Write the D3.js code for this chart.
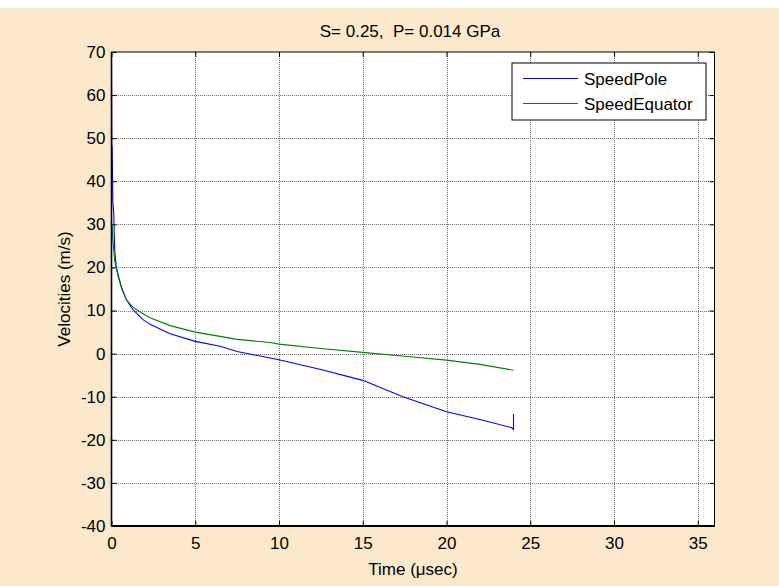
<!DOCTYPE html>
<html><head><meta charset="utf-8">
<script src="https://cdn.jsdelivr.net/npm/d3@7"></script>
<style>body{margin:0;background:#fff}svg{display:block}text{font-family:"Liberation Sans",Arial,sans-serif;fill:#000;white-space:pre}</style>
</head><body>
<script>
const title = "S= 0.25,  P= 0.014 GPa";
const xLabel = "Time (\u03bcsec)";
const yLabel = "Velocities (m/s)";
const xTicks = [0,5,10,15,20,25,30,35];
const yTicks = [-40,-30,-20,-10,0,10,20,30,40,50,60,70];
const seriesNames = ["SpeedPole","SpeedEquator"];
const poleT = [0,0.02,0.04,0.08,0.13,0.19,0.29,0.43,0.59,0.89,1.28,1.88,2.3,3.5,5,6.48,7.5,9.46,10,12.5,15,17.4,20,22,23.9,24,24];
const poleV = [67,48,48,35,33,24,20,17.8,15.5,12.5,10.2,7.9,6.8,4.6,2.85,1.7,0.5,-1.0,-1.4,-3.7,-6.2,-10,-13.5,-15.3,-17.2,-17.6,-14];
const eqT = [0,0.03,0.09,0.19,0.39,0.63,0.89,1.28,1.78,2.37,3.5,5,6.48,7.5,9.46,10,12.5,15,17.5,20,22,24];
const eqV = [30,30,26,21.5,18,14.8,12.5,10.8,9.5,8.2,6.5,5.0,4.0,3.3,2.6,2.2,1.2,0.3,-0.6,-1.5,-2.5,-3.85];

const W=779,H=586;
const m={l:111.5,r:714.5,t:52,b:526};
const FS=17;
const fmt=d=>String(d);
const svg=d3.select("body").append("svg").attr("width",W).attr("height",H);
svg.append("rect").attr("x",0).attr("y",8).attr("width",W).attr("height",H-8).attr("fill","#FCE9CB");
svg.append("rect").attr("x",m.l).attr("y",m.t).attr("width",m.r-m.l).attr("height",m.b-m.t).attr("fill","#fff");

const x=d3.scaleLinear().domain([0,36]).range([m.l,m.r]);
const y=d3.scaleLinear().domain([-40,70]).range([m.b,m.t]);

// grid
const g=svg.append("g").attr("shape-rendering","crispEdges");
g.selectAll(".gx").data(xTicks.filter(v=>v>0)).enter().append("line")
 .attr("x1",d=>Math.round(x(d))+0.5).attr("x2",d=>Math.round(x(d))+0.5).attr("y1",m.t).attr("y2",m.b)
 .attr("stroke","#707070").attr("stroke-dasharray","1,1").attr("stroke-width",1);
g.selectAll(".gy").data(yTicks.filter(v=>v>-40&&v<70)).enter().append("line")
 .attr("y1",d=>Math.round(y(d))+0.5).attr("y2",d=>Math.round(y(d))+0.5).attr("x1",m.l).attr("x2",m.r)
 .attr("stroke","#707070").attr("stroke-dasharray","1,1").attr("stroke-width",1);

// axes via d3
const tl=5;
svg.append("g").attr("transform",`translate(0,${m.b})`)
 .call(d3.axisBottom(x).tickValues(xTicks).tickSize(-tl).tickPadding(10).tickFormat(fmt))
 .call(a=>{a.select(".domain").remove();a.selectAll("text").attr("font-size",FS).attr("dy","0.75em");});
svg.append("g").attr("transform",`translate(0,${m.t})`)
 .call(d3.axisTop(x).tickValues(xTicks).tickSize(-tl).tickFormat(""))
 .call(a=>a.select(".domain").remove());
svg.append("g").attr("transform",`translate(${m.l},0)`)
 .call(d3.axisLeft(y).tickValues(yTicks).tickSize(-tl).tickPadding(10).tickFormat(fmt))
 .call(a=>{a.select(".domain").remove();a.selectAll("text").attr("font-size",FS).attr("dx","4");});
svg.append("g").attr("transform",`translate(${m.r},0)`)
 .call(d3.axisRight(y).tickValues(yTicks).tickSize(-tl).tickFormat(""))
 .call(a=>a.select(".domain").remove());
svg.selectAll(".tick line").attr("stroke","#000");

// lines
const line=d3.line().x(d=>x(d[0])).y(d=>y(d[1]));
svg.append("clipPath").attr("id","c").append("rect").attr("x",m.l).attr("y",m.t).attr("width",m.r-m.l).attr("height",m.b-m.t);
svg.append("path").datum(poleT.map((t,i)=>[t,poleV[i]])).attr("d",line).attr("fill","none").attr("stroke","#0000ff").attr("stroke-width",1.1).attr("clip-path","url(#c)");
svg.append("path").datum(eqT.map((t,i)=>[t,eqV[i]])).attr("d",line).attr("fill","none").attr("stroke","#008000").attr("stroke-width",1.1).attr("clip-path","url(#c)");

// box
svg.append("rect").attr("x",m.l).attr("y",m.t).attr("width",m.r-m.l).attr("height",m.b-m.t).attr("fill","none").attr("stroke","#000").attr("stroke-width",1);
svg.append("line").attr("x1",m.l).attr("x2",m.r).attr("y1",m.b).attr("y2",m.b).attr("stroke","#000").attr("stroke-width",2);
svg.append("line").attr("x1",m.l).attr("x2",m.l).attr("y1",m.t).attr("y2",m.b).attr("stroke","#000").attr("stroke-width",1.6);

// legend
const lg=svg.append("g");
lg.append("rect").attr("x",512).attr("y",63).attr("width",194).attr("height",57).attr("fill","#fff").attr("stroke","#000").attr("stroke-width",1);
const lc=["#0000ff","#008000"];
seriesNames.forEach((n,i)=>{
  const yy=78.5+i*25;
  lg.append("line").attr("x1",523).attr("x2",578).attr("y1",yy).attr("y2",yy).attr("stroke",lc[i]).attr("stroke-width",1);
  lg.append("text").attr("x",584).attr("y",yy+6).attr("font-size",FS).text(n);
});

// titles
svg.append("text").attr("x",(m.l+m.r)/2-3).attr("y",37).attr("text-anchor","middle").attr("font-size",FS).text(title);
svg.append("text").attr("x",(m.l+m.r)/2).attr("y",575).attr("text-anchor","middle").attr("font-size",FS).text(xLabel);
svg.append("text").attr("transform",`translate(70,${(m.t+m.b)/2}) rotate(-90)`).attr("text-anchor","middle").attr("font-size",FS).text(yLabel);
</script>
</body></html>
